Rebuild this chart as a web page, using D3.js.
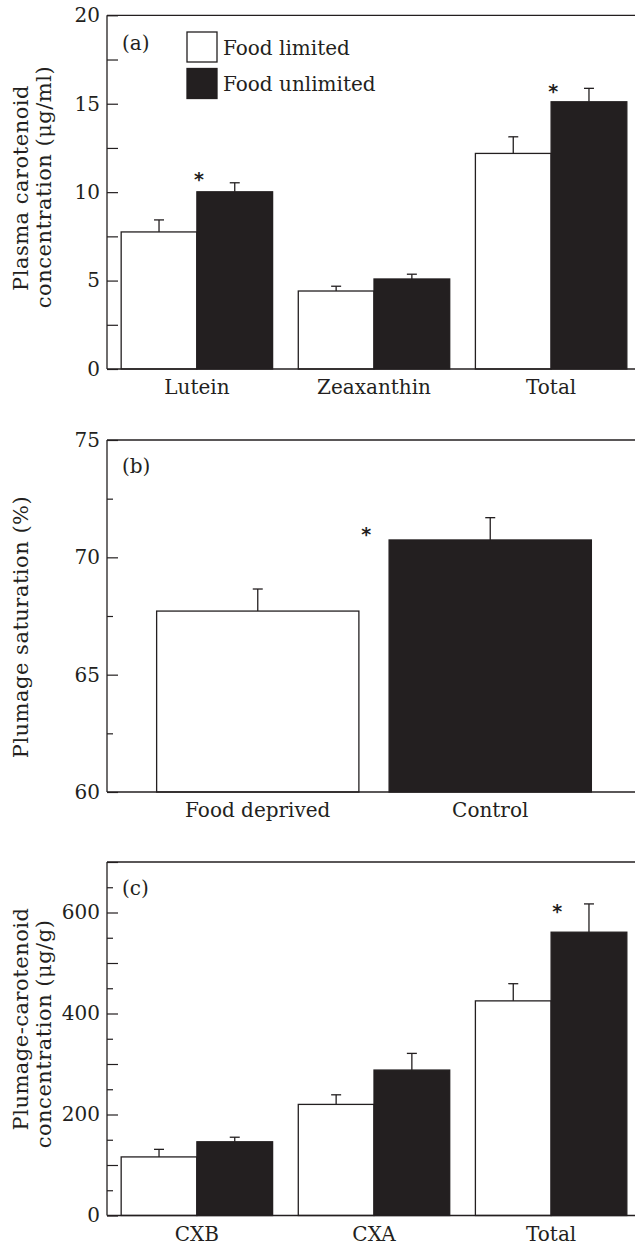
<!DOCTYPE html>
<html>
<head>
<meta charset="utf-8">
<script src="https://cdn.jsdelivr.net/npm/d3@7"></script>
<style>
  body { margin: 0; background: #fff; }
  svg { display: block; font-family: "DejaVu Serif", serif; }
</style>
</head>
<body>
<svg width="635" height="1244"></svg>
<script>
// panel (a) plasma carotenoids
const groupsA = ["Lutein", "Zeaxanthin", "Total"];
const limitedA = [7.75, 4.41, 12.19];
const limitedErrA = [0.68, 0.27, 0.94];
const unlimitedA = [10.02, 5.09, 15.11];
const unlimitedErrA = [0.51, 0.27, 0.76];
const starsA = [{group: "Lutein", v: 10.96}, {group: "Total", v: 15.93}];
const ticksA = [0, 2.5, 5, 7.5, 10, 12.5, 15, 17.5, 20];
const labelsA = [0, 5, 10, 15, 20];

// panel (b) plumage saturation
const groupsB = ["Food deprived", "Control"];
const valuesB = [67.71, 70.74];
const errB = [0.94, 0.95];
const starsB = [{group: "Control", v: 71.16}];
const majorB = [60, 65, 70, 75];
const minorB = [62.5, 67.5, 72.5];

// panel (c) plumage carotenoids
const groupsC = ["CXB", "CXA", "Total"];
const limitedC = [116, 220, 425];
const limitedErrC = [15, 19, 34];
const unlimitedC = [146, 288, 561];
const unlimitedErrC = [9, 33, 56];
const starsC = [{group: "Total", v: 610}];
const majorC = [0, 100, 200, 300, 400, 500, 600, 700];
const minorC = [50, 150, 250, 350, 450, 550, 650];
const labelsC = [0, 200, 400, 600];

const legendKeys = ["Food limited", "Food unlimited"];

const ink = "#231f20";
const svg = d3.select("svg");
const axisX = 107, rightX = 641;

function panel(cfg) {
  const g = svg.append("g");
  const y = d3.scaleLinear().domain(cfg.domain).range([cfg.bottom, cfg.top]);
  const x = d3.scaleBand().domain(cfg.groups).range([axisX, rightX])
    .paddingInner(cfg.padIn).paddingOuter(cfg.padOut);

  // bars
  let bars = [];
  if (cfg.series) {
    const x1 = d3.scaleBand().domain(cfg.series.map(s => s.key)).range([0, x.bandwidth()]);
    cfg.series.forEach(s => {
      cfg.groups.forEach((c, i) => bars.push({
        x: x(c) + x1(s.key), w: x1.bandwidth(), v: s.values[i], e: s.errs[i], fill: s.fill
      }));
    });
    cfg.blackLeft = c => x(c) + x1("unlimited");
  } else {
    cfg.groups.forEach((c, i) => bars.push({
      x: x(c), w: x.bandwidth(), v: cfg.values[i], e: cfg.errs[i], fill: cfg.fills[i]
    }));
    cfg.blackLeft = c => x(c);
  }

  // error bars first so bar outline sits on top
  const eb = g.selectAll(".err").data(bars).enter().append("g")
    .attr("stroke", ink).attr("stroke-width", 1.3);
  eb.append("line")
    .attr("x1", d => d.x + d.w / 2).attr("x2", d => d.x + d.w / 2)
    .attr("y1", d => y(d.v)).attr("y2", d => y(d.v + d.e));
  eb.append("line")
    .attr("x1", d => d.x + d.w / 2 - 5).attr("x2", d => d.x + d.w / 2 + 5)
    .attr("y1", d => y(d.v + d.e)).attr("y2", d => y(d.v + d.e));

  g.selectAll(".bar").data(bars).enter().append("rect")
    .attr("x", d => d.x).attr("width", d => d.w)
    .attr("y", d => y(d.v)).attr("height", d => y(cfg.domain[0]) - y(d.v))
    .attr("fill", d => d.fill).attr("stroke", ink).attr("stroke-width", 1.3);

  // axis frame: left line, top line, baseline
  g.append("line").attr("x1", axisX).attr("x2", axisX)
    .attr("y1", cfg.top).attr("y2", cfg.bottom).attr("stroke", ink).attr("stroke-width", 1.3);
  g.append("line").attr("x1", axisX).attr("x2", 635)
    .attr("y1", cfg.top).attr("y2", cfg.top).attr("stroke", ink).attr("stroke-width", 1.3);
  g.append("line").attr("x1", axisX).attr("x2", 635)
    .attr("y1", cfg.bottom).attr("y2", cfg.bottom).attr("stroke", ink).attr("stroke-width", 1.6);

  // minor ticks
  if (cfg.minor) {
    const am = g.append("g").attr("transform", `translate(${axisX},0)`)
      .call(d3.axisLeft(y).tickValues(cfg.minor).tickSize(-6).tickFormat(""));
    am.select(".domain").remove();
    am.selectAll("line").attr("stroke", ink).attr("stroke-width", 1.2);
  }
  // major ticks + labels
  const ay = g.append("g").attr("transform", `translate(${axisX},0)`)
    .call(d3.axisLeft(y).tickValues(cfg.major).tickSize(-11).tickPadding(7)
      .tickFormat(d => cfg.labels.includes(d) ? d : ""));
  ay.select(".domain").remove();
  ay.selectAll("line").attr("stroke", ink).attr("stroke-width", 1.2);
  ay.selectAll("text").attr("font-family", "DejaVu Serif").attr("font-size", 20).attr("fill", ink);

  // category labels
  g.selectAll(".cat").data(cfg.groups).enter().append("text")
    .attr("x", d => x(d) + x.bandwidth() / 2).attr("y", cfg.bottom + 25)
    .attr("text-anchor", "middle").attr("font-size", 20).attr("fill", ink).text(d => d);

  // y title
  g.selectAll(".yt").data(cfg.title).enter().append("text")
    .attr("transform", (d, i) => `translate(${28 + i * 23},${cfg.titleY[i]}) rotate(-90)`)
    .attr("text-anchor", "middle").attr("font-size", 21).attr("letter-spacing", 0.5)
    .attr("fill", ink).text(d => d);

  // panel letter
  g.append("text").attr("x", 122).attr("y", cfg.top + cfg.letterDy)
    .attr("font-size", 20).attr("fill", ink).text(cfg.letter);

  // significance stars
  g.selectAll(".star").data(cfg.stars).enter().append("text")
    .attr("x", d => cfg.blackLeft(d.group) + cfg.starDx)
    .attr("y", d => y(d.v) + 11)
    .attr("text-anchor", "middle").attr("font-family", "DejaVu Sans").attr("font-weight", "bold")
    .attr("font-size", 19).attr("fill", ink).text("*");

  return {g, x, y};
}

const pa = panel({
  top: 15.3, bottom: 369, domain: [0, 20], groups: groupsA, padIn: 0.145, padOut: 0.08,
  series: [
    {key: "limited", values: limitedA, errs: limitedErrA, fill: "#fff"},
    {key: "unlimited", values: unlimitedA, errs: unlimitedErrA, fill: ink}
  ],
  major: ticksA, labels: labelsA, minor: null,
  title: ["Plasma carotenoid", "concentration (μg/ml)"], titleY: [188, 187],
  letter: "(a)", letterDy: 35, stars: starsA, starDx: 2
});

panel({
  top: 440, bottom: 792, domain: [60, 75], groups: groupsB, padIn: 0.13, padOut: 0.2135,
  values: valuesB, errs: errB, fills: ["#fff", ink],
  major: majorB, labels: majorB, minor: minorB,
  title: ["Plumage saturation (%)"], titleY: [627],
  letter: "(b)", letterDy: 33, stars: starsB, starDx: -23
});

panel({
  top: 862, bottom: 1215.5, domain: [0, 700], groups: groupsC, padIn: 0.145, padOut: 0.08,
  series: [
    {key: "limited", values: limitedC, errs: limitedErrC, fill: "#fff"},
    {key: "unlimited", values: unlimitedC, errs: unlimitedErrC, fill: ink}
  ],
  major: majorC, labels: labelsC, minor: minorC,
  title: ["Plumage-carotenoid", "concentration (μg/g)"], titleY: [1019, 1034],
  letter: "(c)", letterDy: 33, stars: starsC, starDx: 6
});

// legend in panel (a)
const leg = pa.g.append("g");
leg.selectAll("rect").data(legendKeys).enter().append("rect")
  .attr("x", 187).attr("y", (d, i) => 32 + i * 36.5).attr("width", 30).attr("height", 30)
  .attr("fill", (d, i) => i ? ink : "#fff").attr("stroke", ink).attr("stroke-width", 1.3);
leg.selectAll("text").data(legendKeys).enter().append("text")
  .attr("x", 223).attr("y", (d, i) => 55 + i * 36)
  .attr("font-size", 20).attr("fill", ink).text(d => d);
</script>
</body>
</html>
